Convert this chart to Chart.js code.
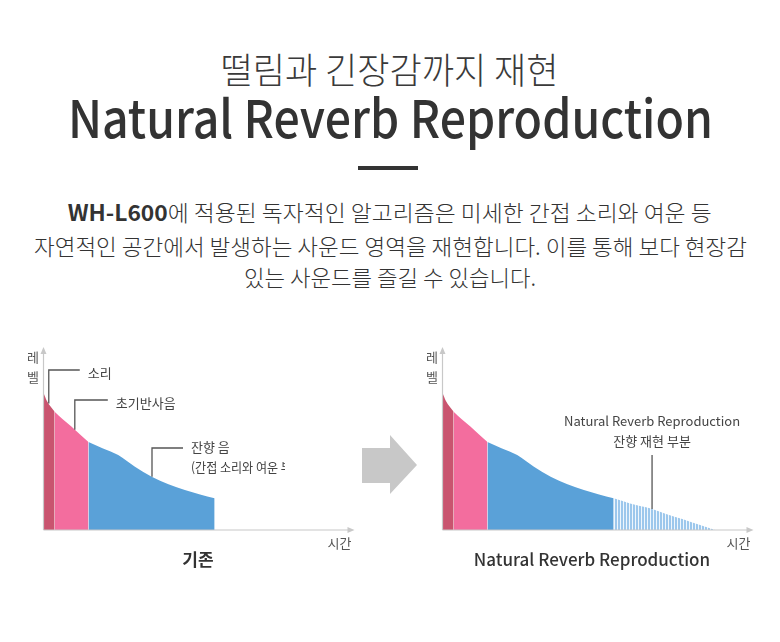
<!DOCTYPE html>
<html>
<head>
<meta charset="utf-8">
<script src="https://cdn.jsdelivr.net/npm/chart.js@4"></script>
<style>
body { margin: 0; background: #fff; }
#page { position: relative; width: 780px; height: 642px; overflow: hidden;
  font-family: "Noto Sans CJK KR", "Noto Sans", sans-serif; color: #333; }
.line { position: absolute; left: 0; width: 780px; text-align: center; white-space: nowrap; }
.line span { display: inline-block; transform-origin: 50% 50%; }
#ktitle { top: 48px; font-size: 36px; line-height: 40px; font-weight: 300; color: #3a3a3a; }
#etitle { top: 85px; font-size: 52px; line-height: 62px; font-weight: 500; color: #333; }
#bar { position: absolute; left: 358px; top: 166px; width: 60px; height: 4px; background: #333; }
.para { font-size: 22px; line-height: 30px; font-weight: 300; color: #333; }
.para b { font-weight: 700; }
#p1 { top: 196px; } #p2 { top: 230px; } #p3 { top: 261px; }
.chartbox { position: absolute; top: 330px; width: 390px; height: 250px; }
#arrow { position: absolute; left: 362px; top: 435px; width: 55px; height: 59px; background: #c8c8c8;
  clip-path: polygon(0 13px, 28px 13px, 28px 0, 55px 30px, 28px 59px, 28px 48px, 0 48px); }
</style>
</head>
<body>
<div id="page">
  <div class="line" id="ktitle"><span data-w="338">떨림과 긴장감까지 재현</span></div>
  <div class="line" id="etitle"><span data-w="645">Natural Reverb Reproduction</span></div>
  <div id="bar"></div>
  <div class="line para" id="p1"><span data-w="644"><b>WH-L600</b>에 적용된 독자적인 알고리즘은 미세한 간접 소리와 여운 등</span></div>
  <div class="line para" id="p2"><span data-w="713">자연적인 공간에서 발생하는 사운드 영역을 재현합니다. 이를 통해 보다 현장감</span></div>
  <div class="line para" id="p3"><span data-w="292">있는 사운드를 즐길 수 있습니다.</span></div>
  <div class="chartbox" style="left:0"><canvas id="before" width="390" height="250"></canvas></div>
  <div class="chartbox" style="left:390px"><canvas id="after" width="390" height="250"></canvas></div>
  <div id="arrow"></div>
</div>
<script>
// decay curve (time 0-100, level 0-100)
const timeValues  = [0, 1.1, 3.6, 6.3, 9.0, 11.8, 14.5, 19.2, 24.1, 29.5, 34.9, 40.3, 45.6, 50.5, 55.2, 60.5, 66.9, 72.1, 77.6, 83.1, 87.9];
const levelValues = [75.4, 70.9, 65.0, 60.7, 56.8, 52.5, 48.4, 44.8, 41.2, 34.8, 29.3, 25.1, 22.0, 19.5, 17.4, 14.6, 11.9, 8.8, 5.9, 2.7, 0];

// parts of the sound: last point index of each part
const partLabels = ['소리', '초기반사음', '잔향 음', '잔향 재현 부분'];
const partEnds = [2, 6, 14, 20];

const axisLabels = ['레', '벨', '시간'];
const chartTitles = ['기존', 'Natural Reverb Reproduction'];

const partColors = ['#c9546f', '#f36d9e', '#5aa1d8'];

function stripes() {
    const c = document.createElement('canvas');
    c.width = 3; c.height = 4;
    const g = c.getContext('2d');
    g.fillStyle = '#eef6fd';
    g.fillRect(0, 0, 3, 4);
    g.fillStyle = '#9cc7ec';
    g.fillRect(0, 0, 2, 4);
    return g.createPattern(c, 'repeat');
}

function makeDatasets(count) {
    const sets = [];
    let start = 0;
    for (let i = 0; i < count; i++) {
        const pts = [];
        for (let j = start; j <= partEnds[i]; j++) pts.push({ x: timeValues[j], y: levelValues[j] });
        sets.push({
            label: partLabels[i],
            data: pts,
            fill: 'origin',
            backgroundColor: i < 3 ? partColors[i] : stripes(),
            borderColor: 'rgba(0,0,0,0)',
            borderWidth: 0,
            pointRadius: 0,
            cubicInterpolationMode: 'monotone'
        });
        start = partEnds[i];
    }
    return sets;
}

// level at a time, straight between read points (for leader lines)
function levelAt(t) {
    for (let i = 1; i < timeValues.length; i++) {
        if (t <= timeValues[i]) {
            const f = (t - timeValues[i - 1]) / (timeValues[i] - timeValues[i - 1]);
            return levelValues[i - 1] + f * (levelValues[i] - levelValues[i - 1]);
        }
    }
    return 0;
}

const decor = {
    id: 'decor',
    afterDatasetsDraw(chart, args, opts) {
        const { ctx, chartArea: a, scales } = chart;
        const font = (s, w) => (w || 400) + ' ' + s + 'px "Noto Sans CJK KR", "Noto Sans", sans-serif';
        ctx.save();

        // axes with arrow heads
        ctx.strokeStyle = '#c8c8c8';
        ctx.fillStyle = '#c8c8c8';
        ctx.lineWidth = 1.2;
        ctx.beginPath();
        ctx.moveTo(a.left, a.bottom);
        ctx.lineTo(a.left, a.top + 4);
        ctx.moveTo(a.left, a.bottom);
        ctx.lineTo(a.right - 4, a.bottom);
        ctx.stroke();
        ctx.beginPath();
        ctx.moveTo(a.left, a.top - 1); ctx.lineTo(a.left - 3, a.top + 6); ctx.lineTo(a.left + 3, a.top + 6);
        ctx.closePath(); ctx.fill();
        ctx.beginPath();
        ctx.moveTo(a.right + 1, a.bottom); ctx.lineTo(a.right - 6, a.bottom - 3); ctx.lineTo(a.right - 6, a.bottom + 3);
        ctx.closePath(); ctx.fill();

        // axis labels
        ctx.fillStyle = '#555';
        ctx.textBaseline = 'middle';
        ctx.textAlign = 'center';
        ctx.font = font(13);
        ctx.fillText(axisLabels[0], a.left - 10.5, a.top + 9);
        ctx.fillText(axisLabels[1], a.left - 10.5, a.top + 29);
        ctx.textAlign = 'right';
        ctx.fillText(axisLabels[2], a.right - 2, a.bottom + 13, 26);

        // chart title under the axis
        ctx.fillStyle = '#333';
        ctx.textAlign = 'center';
        ctx.font = font(17, opts.titleWeight);
        ctx.fillText(opts.title, opts.titleX, a.bottom + 30, opts.titleWidth);

        // leader lines and notes
        ctx.strokeStyle = '#555';
        ctx.lineWidth = 1.3;
        opts.notes.forEach(n => {
            const x = scales.x.getPixelForValue(n.t);
            const yEnd = scales.y.getPixelForValue(levelAt(n.t));
            ctx.beginPath();
            ctx.moveTo(x, yEnd);
            ctx.lineTo(x, n.top);
            if (n.len) ctx.lineTo(x + n.len, n.top);
            ctx.stroke();
            ctx.fillStyle = '#444';
            ctx.font = font(13);
            n.lines.forEach((txt, k) => {
                ctx.save();
                if (n.clip) { ctx.beginPath(); ctx.rect(0, 0, n.clip, chart.height); ctx.clip(); }
                ctx.textAlign = n.align || 'left';
                const tx = n.len ? x + n.len + 8 : x;
                ctx.fillText(txt, tx, n.textY + k * 20, n.maxW ? n.maxW[k] : undefined);
                ctx.restore();
            });
        });
        ctx.restore();
    }
};

function makeChart(id, count, pad, opts) {
    return new Chart(document.getElementById(id), {
        type: 'line',
        data: { datasets: makeDatasets(count) },
        options: {
            responsive: false,
            animation: false,
            layout: { padding: pad },
            plugins: { legend: { display: false }, tooltip: { enabled: false }, decor: opts },
            scales: {
                x: { type: 'linear', min: 0, max: 100, display: false },
                y: { min: 0, max: 100, display: false }
            }
        },
        plugins: [decor]
    });
}

makeChart('before', 3, { left: 43.5, right: 36.5, top: 18, bottom: 50 }, {
    title: chartTitles[0], titleX: 198, titleWeight: 700, titleWidth: 40,
    notes: [
        { t: 1.7, top: 370, len: 31, textY: 373, lines: [partLabels[0]] },
        { t: 10.1, top: 400, len: 33, textY: 403, lines: [partLabels[1]], maxW: [63] },
        { t: 35.0, top: 448, len: 31, textY: 447, lines: ['잔향 음', '(간접 소리와 여운 부분)'], maxW: [45, 116], clip: 285 }
    ].map(n => Object.assign(n, { top: n.top - 330, textY: n.textY - 330 }))
});

makeChart('after', 4, { left: 52.5, right: 27.5, top: 18, bottom: 50 }, {
    title: chartTitles[1], titleX: 202, titleWeight: 500, titleWidth: 242,
    notes: [
        { t: 67.6, top: 455, textY: 421, align: 'center',
          lines: ['Natural Reverb Reproduction', partLabels[3]], maxW: [189, 80] }
    ].map(n => Object.assign(n, { top: n.top - 330, textY: n.textY - 330 }))
});

// squeeze heading lines to the widths of the original
document.fonts.ready.then(() => {
    document.querySelectorAll('[data-w]').forEach(el => {
        const w = el.getBoundingClientRect().width;
        el.style.transform = 'scaleX(' + (el.dataset.w / w) + ')';
    });
});
</script>
</body>
</html>
